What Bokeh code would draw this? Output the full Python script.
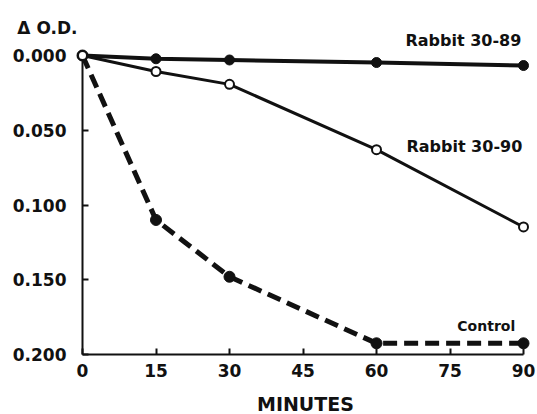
from bokeh.plotting import figure
from bokeh.models import Range1d, FixedTicker, Label
from bokeh.embed import file_html
from bokeh.resources import INLINE

minutes = [0, 15, 30, 60, 90]
rabbit_3089 = [0.0, 0.0022, 0.003, 0.0047, 0.0067]
rabbit_3090 = [0.0, 0.0107, 0.0193, 0.063, 0.1147]
control = [0.0, 0.110, 0.148, 0.1925, 0.1925]
x_ticks = [0, 15, 30, 45, 60, 75, 90]
y_ticks = [0.0, 0.05, 0.1, 0.15, 0.2]
y_tick_labels = ["0.000", "0.050", "0.100", "0.150", "0.200"]

INK = "#111111"
FONT = "DejaVu Sans"

# frame fills the canvas; axes are pinned at the data origin / bottom
XPX = 4.9      # px per minute
YPX = 1495.0   # px per OD unit
p = figure(width=537, height=414, output_backend="svg", toolbar_location=None,
           x_range=Range1d(-82 / XPX, 455 / XPX),
           y_range=Range1d(359 / YPX, -55 / YPX),
           min_border_left=0, min_border_right=0, min_border_top=0, min_border_bottom=0)
p.outline_line_color = None
p.xgrid.visible = False
p.ygrid.visible = False

for ax in (p.xaxis[0], p.yaxis[0]):
    ax.axis_line_color = INK
    ax.axis_line_width = 2
    ax.major_tick_line_color = INK
    ax.major_tick_line_width = 2
    ax.major_tick_in = 6
    ax.major_tick_out = 0
    ax.minor_tick_line_color = None
    ax.major_label_text_font = FONT
    ax.major_label_text_font_size = "17px"
    ax.major_label_text_font_style = "bold"
    ax.major_label_text_color = INK

p.xaxis.fixed_location = 0.2
p.xaxis.bounds = (0, 90)
p.xaxis.ticker = FixedTicker(ticks=x_ticks)
p.xaxis.major_label_overrides = {t: str(t) for t in x_ticks}
p.xaxis.major_label_standoff = 9
p.yaxis.fixed_location = 0
p.yaxis.bounds = (0, 0.2)
p.yaxis.ticker = FixedTicker(ticks=y_ticks)
p.yaxis.major_label_overrides = {t: l for t, l in zip(y_ticks, y_tick_labels)}
p.yaxis.major_label_standoff = 16

r = p.line(minutes, control, line_color=INK, line_width=5, line_dash="14 7")
r.level = "overlay"
r = p.scatter(minutes, control, size=11, fill_color=INK, line_color=INK)
r.level = "overlay"

r = p.line(minutes, rabbit_3089, line_color=INK, line_width=4)
r.level = "overlay"
r = p.scatter(minutes, rabbit_3089, size=10, fill_color=INK, line_color=INK)
r.level = "overlay"

r = p.line(minutes, rabbit_3090, line_color=INK, line_width=3)
r.level = "overlay"
r = p.scatter(minutes, rabbit_3090, size=9, fill_color="white", line_color=INK, line_width=2)
r.level = "overlay"

def lab(x, y, text, size, bold=True, align="left"):
    p.add_layout(Label(x=x, y=y, text=text, text_font=FONT, text_font_size=size,
                       text_font_style="bold" if bold else "normal", text_color=INK,
                       text_baseline="middle", text_align=align, level="overlay"))

lab(65.9, -0.0097, "Rabbit 30-89", "16px")
lab(66.1, 0.061, "Rabbit 30-90", "16px")
lab(76.5, 0.181, "Control", "14px")
lab(-13.3, -0.0187, "Δ O.D.", "17px")
lab(45.5, 0.2328, "MINUTES", "19px", align="center")

open("out.html", "w").write(file_html(p, INLINE))
